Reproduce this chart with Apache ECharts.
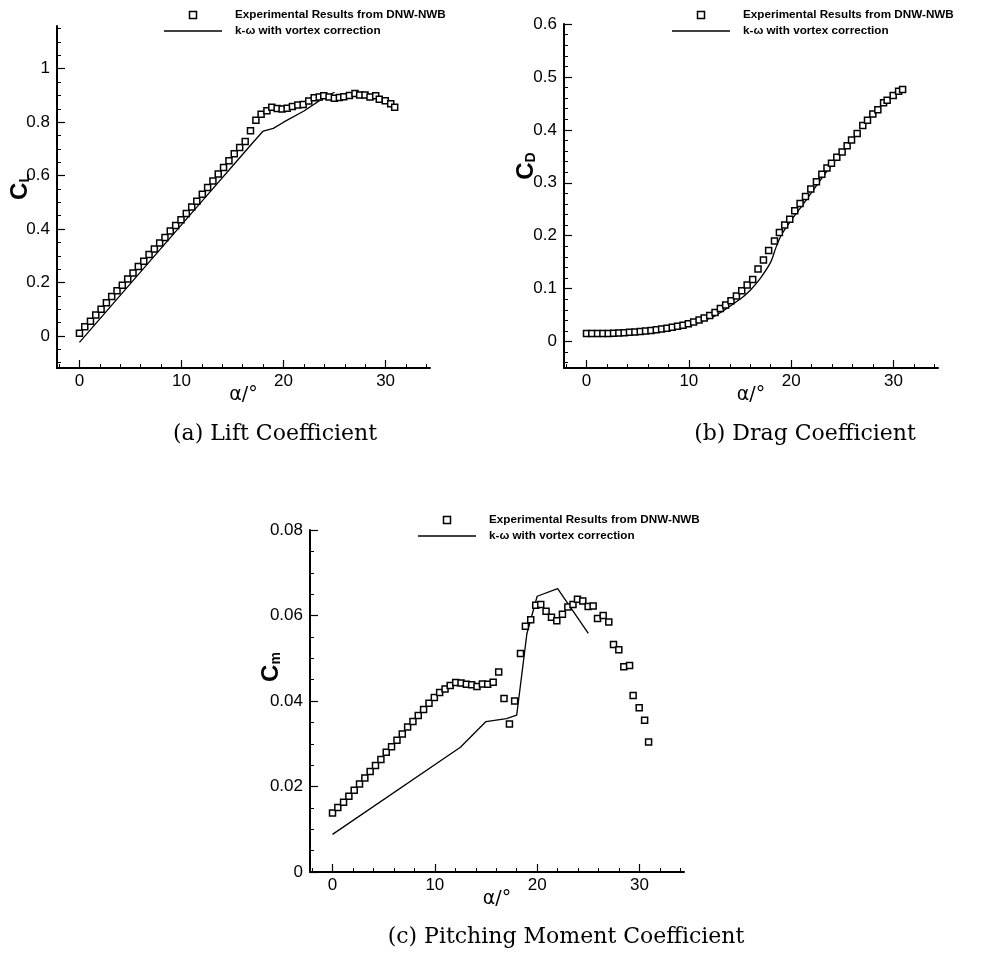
<!DOCTYPE html>
<html><head><meta charset="utf-8">
<script src="https://cdn.jsdelivr.net/npm/echarts@6/dist/echarts.min.js"></script>
<style>html,body{margin:0;padding:0;background:#fff}#c{width:987px;height:954px}</style>
</head><body><div id="c"></div>
<script>
// ---- experimental data (DNW-NWB) ----
const alphaExp = [0, 0.52, 1.08, 1.6, 2.12, 2.64, 3.16, 3.68, 4.2, 4.73, 5.25, 5.77, 6.3, 6.82, 7.34, 7.86, 8.38, 8.9, 9.43, 9.95,
  10.47, 11, 11.5, 12.04, 12.56, 13.08, 13.6, 14.12, 14.65, 15.17, 15.7, 16.24, 16.76, 17.29, 17.8, 18.37, 18.85, 19.37, 19.86, 20.35,
  20.87, 21.4, 21.92, 22.47, 23, 23.5, 23.94, 24.46, 24.98, 25.47, 25.9, 26.45, 27, 27.46, 27.98, 28.47, 29.03, 29.38, 29.97, 30.5, 30.89];
const clExp = [0.01, 0.034, 0.055, 0.078, 0.10, 0.124, 0.148, 0.169, 0.19, 0.213, 0.236, 0.26, 0.28, 0.305, 0.325, 0.348, 0.368, 0.393, 0.413, 0.435,
  0.458, 0.483, 0.504, 0.53, 0.556, 0.58, 0.606, 0.63, 0.656, 0.682, 0.705, 0.728, 0.768, 0.807, 0.83, 0.843, 0.856, 0.851, 0.849, 0.852,
  0.859, 0.864, 0.866, 0.879, 0.891, 0.894, 0.899, 0.894, 0.89, 0.892, 0.895, 0.9, 0.907, 0.902, 0.902, 0.894, 0.899, 0.886, 0.88, 0.869, 0.856];
const cdExp = [0.0152, 0.015, 0.015, 0.0152, 0.0154, 0.0157, 0.0162, 0.0167, 0.0174, 0.0181, 0.019, 0.0199, 0.021, 0.0222, 0.0236, 0.025, 0.0268, 0.0288, 0.031, 0.0335,
  0.037, 0.0405, 0.0445, 0.049, 0.055, 0.0625, 0.069, 0.077, 0.086, 0.096, 0.1066, 0.117, 0.137, 0.154, 0.172, 0.19, 0.206, 0.22, 0.231, 0.247,
  0.261, 0.274, 0.288, 0.302, 0.316, 0.328, 0.337, 0.348, 0.358, 0.37, 0.381, 0.393, 0.408, 0.418, 0.43, 0.438, 0.451, 0.456, 0.465, 0.473, 0.476];
const cmExp = [0.0138, 0.0151, 0.0163, 0.0177, 0.0191, 0.0206, 0.022, 0.0235, 0.0249, 0.0263, 0.028, 0.0293, 0.0308, 0.0323, 0.0339, 0.0352, 0.0366, 0.038, 0.0395, 0.0408,
  0.042, 0.0428, 0.0436, 0.0443, 0.0442, 0.0439, 0.0438, 0.0434, 0.044, 0.0439, 0.0444, 0.0468, 0.0406, 0.0346, 0.04, 0.0511, 0.0575, 0.059, 0.0624, 0.0626,
  0.061, 0.0596, 0.0588, 0.0603, 0.062, 0.0626, 0.0638, 0.0634, 0.0621, 0.0622, 0.0593, 0.06, 0.0585, 0.0532, 0.052, 0.048, 0.0483, 0.0413, 0.0384, 0.0355, 0.0304];

// ---- k-omega with vortex correction ----
const alphaCfdL = [0, 12.5, 15, 17, 18, 19, 20, 22, 24, 25];
const clCfd = [-0.024, 0.526, 0.636, 0.724, 0.767, 0.777, 0.8, 0.842, 0.893, 0.912];
const alphaCfdD = [0, 2.5, 5, 7.5, 10, 12.5, 15, 16, 17, 18, 18.5, 19, 19.5, 20, 21, 22, 23, 24, 25];
const cdCfd = [0.0125, 0.0135, 0.0165, 0.022, 0.031, 0.048, 0.08, 0.097, 0.12, 0.15, 0.177, 0.2, 0.215, 0.229, 0.255, 0.282, 0.309, 0.335, 0.359];
const alphaCfdM = [0, 12.5, 15, 17, 18, 19, 20, 22, 25];
const cmCfd = [0.0088, 0.0292, 0.0352, 0.0359, 0.0367, 0.0558, 0.0645, 0.0663, 0.0558];

// ---- ticks ----
const xMajor = [0, 10, 20, 30];
const xMinor = [-2, 2, 4, 6, 8, 12, 14, 16, 18, 22, 24, 26, 28, 32, 34];
const clMajor = [0, 0.2, 0.4, 0.6, 0.8, 1];
const clMinor = [-0.1, -0.05, 0.05, 0.1, 0.15, 0.25, 0.3, 0.35, 0.45, 0.5, 0.55, 0.65, 0.7, 0.75, 0.85, 0.9, 0.95, 1.05, 1.1, 1.15];
const cdMajor = [0, 0.1, 0.2, 0.3, 0.4, 0.5, 0.6];
const cdMinor = [-0.04, -0.02, 0.02, 0.04, 0.06, 0.08, 0.12, 0.14, 0.16, 0.18, 0.22, 0.24, 0.26, 0.28, 0.32, 0.34, 0.36, 0.38, 0.42, 0.44, 0.46, 0.48, 0.52, 0.54, 0.56, 0.58];
const cmMajor = [0, 0.02, 0.04, 0.06, 0.08];
const cmMinor = [0.005, 0.01, 0.015, 0.025, 0.03, 0.035, 0.045, 0.05, 0.055, 0.065, 0.07, 0.075];

const expName = 'Experimental Results from DNW-NWB';
const cfdName = 'k-\u03c9 with vortex correction';
const xName = '\u03b1/\u00b0';
const captions = ['(a) Lift Coefficient', '(b) Drag Coefficient', '(c) Pitching Moment Coefficient'];
const ySub = ['L', 'D', 'm'];

const pairs = (xs, ys) => xs.map((x, i) => [x, ys[i]]);

const panels = [
  { grid: { left: 57, top: 26, width: 373, height: 342 }, yMin: -0.12, yMax: 1.16, major: clMajor, minor: clMinor,
    exp: clExp, cfdA: alphaCfdL, cfd: clCfd, smooth: false, legend: { left: 164, top: 9 },
    yTitle: [20, 187], caption: [275, 434] },
  { grid: { left: 564, top: 24, width: 374, height: 344 }, yMin: -0.05, yMax: 0.6, major: cdMajor, minor: cdMinor,
    exp: cdExp, cfdA: alphaCfdD, cfd: cdCfd, smooth: 0.3, legend: { left: 672, top: 9 },
    yTitle: [526, 166], caption: [805, 434] },
  { grid: { left: 310, top: 530, width: 374, height: 342 }, yMin: 0, yMax: 0.08, major: cmMajor, minor: cmMinor,
    exp: cmExp, cfdA: alphaCfdM, cfd: cmCfd, smooth: false, legend: { left: 418, top: 514 },
    yTitle: [271, 667], caption: [566, 937] }
];

const black = '#000';
const tickFont = { color: black, fontSize: 17, fontFamily: 'Liberation Sans' };
const squareIcon = 'path://M0,0L10,0L10,10L0,10Z';
const lineIcon = 'path://M0,0L58,0L58,1.3L0,1.3Z';
const option = { animation: false, backgroundColor: '#fff', grid: [], xAxis: [], yAxis: [], series: [], legend: [], graphic: [] };

panels.forEach((p, i) => {
  option.grid.push(Object.assign({ containLabel: false }, p.grid));
  const xBase = { type: 'value', gridIndex: i, min: -2.2, max: 34.35, position: 'bottom', splitLine: { show: false } };
  option.xAxis.push(Object.assign({}, xBase, {
    axisLine: { show: true, onZero: false, lineStyle: { color: black, width: 2 } },
    axisTick: { show: true, inside: true, length: 8, customValues: xMajor, lineStyle: { color: black, width: 1.2 } },
    axisLabel: Object.assign({ show: true, customValues: xMajor, margin: 5 }, tickFont),
    name: xName, nameLocation: 'middle', nameGap: 18, nameMoveOverlap: false,
    nameTextStyle: { color: black, fontSize: 19, fontFamily: 'DejaVu Sans', verticalAlign: 'top' }
  }));
  option.xAxis.push(Object.assign({}, xBase, {
    axisLine: { show: false, onZero: false },
    axisTick: { show: true, inside: true, length: 4, customValues: xMinor, lineStyle: { color: black, width: 1 } },
    axisLabel: { show: false }
  }));
  const yBase = { type: 'value', gridIndex: i, min: p.yMin, max: p.yMax, position: 'left', splitLine: { show: false } };
  option.yAxis.push(Object.assign({}, yBase, {
    axisLine: { show: true, onZero: false, lineStyle: { color: black, width: 2 } },
    axisTick: { show: true, inside: true, length: 8, customValues: p.major, lineStyle: { color: black, width: 1.2 } },
    axisLabel: Object.assign({ show: true, customValues: p.major, margin: 7, formatter: v => String(v) }, tickFont)
  }));
  option.yAxis.push(Object.assign({}, yBase, {
    axisLine: { show: false, onZero: false },
    axisTick: { show: true, inside: true, length: 4, customValues: p.minor, lineStyle: { color: black, width: 1 } },
    axisLabel: { show: false }
  }));
  option.series.push({
    name: cfdName, type: 'line', xAxisIndex: 2 * i, yAxisIndex: 2 * i,
    data: pairs(p.cfdA, p.cfd), showSymbol: false, symbol: 'none', smooth: p.smooth,
    lineStyle: { color: black, width: 1.3 }, itemStyle: { color: black }, z: 2
  });
  option.series.push({
    name: expName, type: 'scatter', xAxisIndex: 2 * i, yAxisIndex: 2 * i,
    data: pairs(alphaExp, p.exp), symbol: 'rect', symbolSize: 6,
    itemStyle: { color: '#fff', borderColor: black, borderWidth: 1.5, opacity: 1 }, z: 3
  });
  option.legend.push({
    left: p.legend.left, top: p.legend.top, orient: 'vertical', padding: 0, itemGap: 4,
    itemWidth: 58, itemHeight: 7, selectedMode: false, symbolKeepAspect: true,
    data: [
      { name: expName, icon: squareIcon, itemStyle: { color: '#fff', borderColor: black, borderWidth: 1.5 } },
      { name: cfdName, icon: lineIcon, itemStyle: { color: black, borderWidth: 0 } }
    ],
    textStyle: { color: black, fontSize: 11.7, fontWeight: 'bold', fontFamily: 'Liberation Sans', padding: [0, 0, 0, 8] }
  });
  option.graphic.push({
    type: 'text', x: p.yTitle[0], y: p.yTitle[1], rotation: Math.PI / 2,
    style: {
      text: '{c|C}{s|' + ySub[i] + '}', fill: black,
      align: 'center', verticalAlign: 'middle', textAlign: 'center', textVerticalAlign: 'middle',
      rich: {
        c: { fontSize: 24, fontWeight: 'bold', fontFamily: 'Liberation Sans', fill: black },
        s: { fontSize: 14, fontWeight: 'bold', fontFamily: 'Liberation Sans', fill: black, verticalAlign: 'bottom' }
      }
    }
  });
  option.graphic.push({
    type: 'text', x: p.caption[0], y: p.caption[1],
    style: {
      text: captions[i], fill: black, fontSize: 22, fontFamily: 'DejaVu Serif',
      align: 'center', verticalAlign: 'middle', textAlign: 'center', textVerticalAlign: 'middle'
    }
  });
});

const chart = echarts.init(document.getElementById('c'), null, { renderer: 'canvas' });
chart.setOption(option);
</script>
</body></html>
